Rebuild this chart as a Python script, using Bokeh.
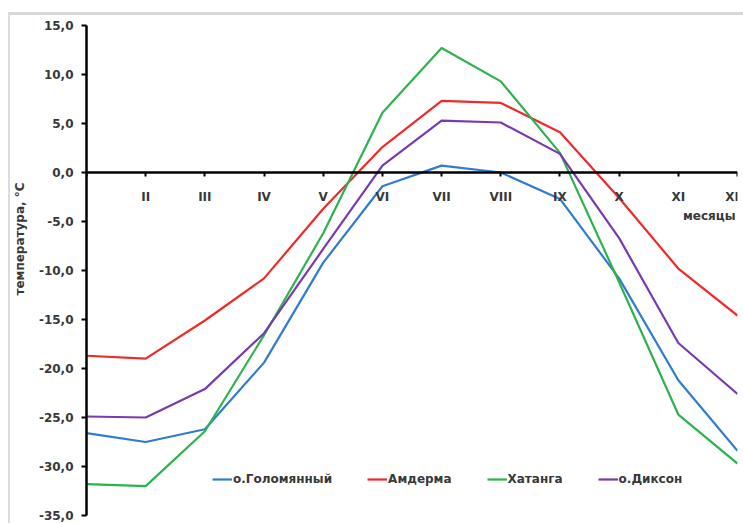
from bokeh.plotting import figure
from bokeh.models import (FixedTicker, Label, Legend, LegendItem, ColumnDataSource, Range1d,
                          Title, InlineStyleSheet)
from bokeh.embed import file_html
from bokeh.resources import INLINE

months = [1, 2, 3, 4, 5, 6, 7, 8, 9, 10, 11, 12]
month_labels = ["I", "II", "III", "IV", "V", "VI", "VII", "VIII", "IX", "X", "XI", "XII"]

golomyanny = [-26.6, -27.5, -26.2, -19.4, -9.2, -1.4, 0.7, 0.0, -2.7, -10.8, -21.2, -28.4]
amderma = [-18.7, -19.0, -15.1, -10.8, -3.7, 2.6, 7.3, 7.1, 4.1, -2.6, -9.8, -14.6]
khatanga = [-31.8, -32.0, -26.4, -16.6, -6.2, 6.1, 12.7, 9.3, 2.0, -11.2, -24.7, -29.7]
dikson = [-24.9, -25.0, -22.1, -16.4, -7.8, 0.7, 5.3, 5.1, 1.9, -6.7, -17.4, -22.6]

series_names = ["о.Голомянный", "Амдерма", "Хатанга", "о.Диксон"]
series_values = [golomyanny, amderma, khatanga, dikson]
series_colors = ["#2f7cd0", "#ee2b2b", "#2db34e", "#7a3aae"]

y_ticks = [-35, -30, -25, -20, -15, -10, -5, 0, 5, 10, 15]

FONT = "DejaVu Sans"
FS = "12px"
TXT = "#383838"

p = figure(width=743, height=523, output_backend="svg", toolbar_location=None,
           x_range=Range1d(1, 12), y_range=Range1d(-35, 15),
           min_border_left=86, min_border_right=6, min_border_top=25, min_border_bottom=8)
p.outline_line_color = None
p.xgrid.visible = False
p.ygrid.visible = False
p.background_fill_color = "white"
p.border_fill_color = "white"
p.stylesheets = [InlineStyleSheet(css=(
    ":host::after { content: ''; position: absolute; left: 8px; top: 12px; right: 0; bottom: 0;"
    " border-top: 3px solid #d8d8d8; border-left: 2px solid #dcdcdc;"
    " pointer-events: none; z-index: 5; }"))]

renderers = []
for name, vals, col in zip(series_names, series_values, series_colors):
    src = ColumnDataSource(dict(x=months, y=vals))
    r = p.line("x", "y", source=src, line_color=col, line_width=2.2)
    renderers.append((name, r))

# x axis crossing at zero
xa = p.xaxis[0]
xa.fixed_location = 0
xa.ticker = FixedTicker(ticks=months)
xa.major_label_overrides = {m: (lab if m != 1 else "") for m, lab in zip(months, month_labels)}
xa.axis_line_color = "black"
xa.axis_line_width = 2.5
xa.major_tick_out = 4
xa.major_tick_in = 0
xa.major_tick_line_width = 2
xa.minor_tick_line_color = None
xa.major_label_standoff = 13
xa.major_label_text_font = FONT
xa.major_label_text_font_style = "bold"
xa.major_label_text_font_size = FS
xa.major_label_text_color = TXT

ya = p.yaxis[0]
ya.ticker = FixedTicker(ticks=y_ticks)
ya.major_label_overrides = {t: ("%.1f" % t).replace(".", ",") for t in y_ticks}
ya.axis_line_color = "black"
ya.axis_line_width = 2.5
ya.major_tick_out = 5
ya.major_tick_in = 0
ya.major_tick_line_width = 2
ya.minor_tick_line_color = None
ya.major_label_standoff = 8
ya.major_label_text_font = FONT
ya.major_label_text_font_style = "bold"
ya.major_label_text_font_size = FS
ya.major_label_text_color = TXT

p.add_layout(Title(text="температура, °С", align="left", offset=220, standoff=18,
                   text_font=FONT, text_font_style="bold", text_font_size=FS,
                   text_color=TXT), "left")

p.add_layout(Label(x=12, y=-4.4, x_offset=-2, text="месяцы", text_align="right",
                   text_baseline="middle",
                   text_font=FONT, text_font_style="bold", text_font_size=FS,
                   text_color=TXT))

legend = Legend(items=[LegendItem(label=n, renderers=[r]) for n, r in renderers],
                orientation="horizontal", location=(126, 29),
                glyph_width=20, glyph_height=12, label_standoff=1, spacing=35,
                padding=4, margin=0,
                label_text_font=FONT, label_text_font_style="bold",
                label_text_font_size=FS, label_text_color=TXT,
                background_fill_color="white", background_fill_alpha=1.0,
                border_line_color=None)
p.add_layout(legend, "center")

open("out.html", "w").write(file_html(p, INLINE))
